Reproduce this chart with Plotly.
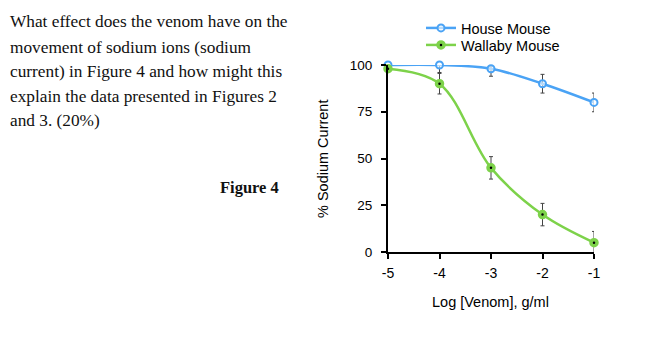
import plotly.graph_objects as go

log_venom = [-5, -4, -3, -2, -1]
house_mouse = [100, 100, 98, 90, 80]
house_err = [0, 4, 4, 5, 5]
wallaby_mouse = [98, 90, 45, 20, 5]
wallaby_err = [0, 5.5, 6, 6, 6]
x_ticks = [-5, -4, -3, -2, -1]
y_ticks = [0, 25, 50, 75, 100]

question_lines = [
    "What effect does the venom have on the",
    "movement of sodium ions (sodium",
    "current) in Figure 4 and how might this",
    "explain the data presented in Figures 2",
    "and 3. (20%)",
]

W, H = 658, 341
L, R, T, B = 388, 594, 65, 252

def px(x):
    return (x - L) / (R - L)

def py(y):
    return (B - y) / (B - T)

BLUE = "#4aa3f5"
GREEN = "#7dd24a"
SANS = "Liberation Sans, Arial"
SERIF = "Liberation Serif, Times New Roman"

fig = go.Figure()

fig.add_trace(go.Scatter(
    x=log_venom, y=house_mouse, mode="markers", showlegend=False,
    marker=dict(size=0.1, color="rgba(0,0,0,0)"),
    error_y=dict(type="data", array=house_err, color="#444", thickness=1, width=2),
    cliponaxis=False, hoverinfo="skip"))
fig.add_trace(go.Scatter(
    x=log_venom, y=wallaby_mouse, mode="markers", showlegend=False,
    marker=dict(size=0.1, color="rgba(0,0,0,0)"),
    error_y=dict(type="data", array=wallaby_err, color="#444", thickness=1, width=2),
    cliponaxis=False, hoverinfo="skip"))

fig.add_trace(go.Scatter(
    x=log_venom, y=house_mouse, name="House Mouse", mode="lines+markers",
    line=dict(color=BLUE, width=2.5, shape="spline", smoothing=1.0),
    marker=dict(size=7, color="rgba(255,255,255,0.6)", line=dict(color=BLUE, width=2)),
    cliponaxis=False, legend="legend"))
fig.add_trace(go.Scatter(
    x=log_venom, y=wallaby_mouse, name="Wallaby Mouse", mode="lines+markers",
    line=dict(color=GREEN, width=2.5, shape="spline", smoothing=1.0),
    marker=dict(size=6, color="black", line=dict(color=GREEN, width=3.5)),
    cliponaxis=False, legend="legend2"))

fig.update_xaxes(range=[-5, -1], tickvals=x_ticks, ticktext=[str(v) for v in x_ticks],
                 showgrid=False, zeroline=False, showline=True, linecolor="black", linewidth=2,
                 ticks="outside", ticklen=5, tickwidth=2, tickcolor="black",
                 ticklabelstandoff=2,
                 tickfont=dict(family=SANS, size=14, color="black"))
fig.update_yaxes(range=[0, 100], tickvals=y_ticks,
                 showgrid=False, zeroline=False, showline=True, linecolor="black", linewidth=2,
                 ticks="outside", ticklen=5, tickwidth=2, tickcolor="black",
                 ticklabelstandoff=6,
                 tickfont=dict(family=SANS, size=13.5, color="black"))

annotations = []
line_y = [22, 47, 71, 96, 120]
for txt, yy in zip(question_lines, line_y):
    annotations.append(dict(text=txt, x=px(8), y=py(yy), xref="paper", yref="paper",
                            xanchor="left", yanchor="middle", showarrow=False,
                            font=dict(family=SERIF, size=17.3, color="#111")))
annotations.append(dict(text="<b>Figure 4</b>", x=px(281), y=py(187), xref="paper", yref="paper",
                        xanchor="right", yanchor="middle", showarrow=False,
                        font=dict(family=SERIF, size=16.5, color="#111")))
annotations.append(dict(text="% Sodium Current", x=px(323), y=py(159), xref="paper", yref="paper",
                        xanchor="center", yanchor="middle", showarrow=False, textangle=-90,
                        font=dict(family=SANS, size=14.5, color="black")))
annotations.append(dict(text="Log [Venom], g/ml", x=px(490), y=py(302), xref="paper", yref="paper",
                        xanchor="center", yanchor="middle", showarrow=False,
                        font=dict(family=SANS, size=14.5, color="black")))

legend_style = dict(xanchor="left", yanchor="middle", bgcolor="rgba(0,0,0,0)", itemwidth=30,
                    font=dict(family=SANS, size=14.5, color="black"))

fig.update_layout(
    width=W, height=H,
    margin=dict(l=L, r=W - R, t=T, b=H - B),
    paper_bgcolor="white", plot_bgcolor="white",
    annotations=annotations,
    legend=dict(x=px(421), y=py(28), **legend_style),
    legend2=dict(x=px(421), y=py(45), **legend_style),
)

fig.write_html("out.html")
